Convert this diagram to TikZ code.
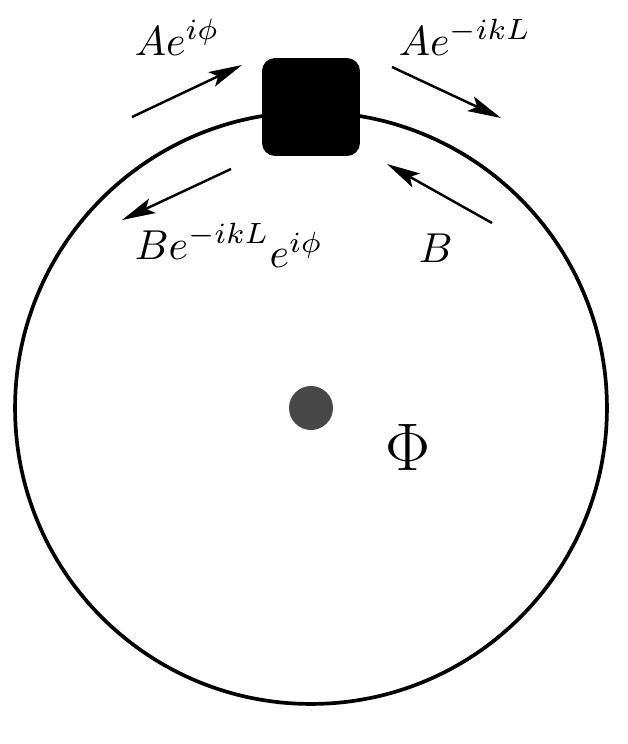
\documentclass[tikz,border=0pt]{standalone}
\usepackage{amsmath}
\usepackage{tikz}
\usetikzlibrary{arrows.meta}

\begin{document}
\begin{tikzpicture}[x=0.02cm,y=-0.02cm,
    wave/.style={line width=1.4pt,-{Stealth[length=19pt,width=9pt,inset=4pt]}},
    amp/.style={anchor=base west,inner sep=0pt,font=\normalsize,scale=2.38}]
\useasboundingbox (0,0) rectangle (627,744);
\coordinate (o) at (311,408);
% ring, flux and scatterer
\draw[line width=2.1pt] (o) circle[radius=5.92cm];
\node[circle, fill=black!72, minimum size=0.88cm, inner sep=0pt] (flux) at (o) {};
\node[fill=black, rounded corners=0.26cm, minimum size=1.96cm, inner sep=0pt] (box) at (311,107) {};
% end points of the waves
\coordinate (a1) at (132,117);
\coordinate (a2) at (242,65);
\coordinate (b1) at (231,169);
\coordinate (b2) at (122,220);
\coordinate (c1) at (392,67);
\coordinate (c2) at (501,118);
\coordinate (d1) at (492,223);
\coordinate (d2) at (387,164);
% draws waves
\draw[wave] (a1) -- (a2);
\draw[wave] (b1) -- (b2);
\draw[wave] (c1) -- (c2);
\draw[wave] (d1) -- (d2);
% labels waves
\node[amp] (ain) at (134,55) {$Ae^{i\phi}$};
\node[amp] (aout) at (398,55) {$Ae^{-ikL}$};
\node[amp] (bout) at (134,259) {$Be^{-ikL}\raisebox{-0.2em}{$e^{i\phi}$}$};
\node[amp] (bin) at (418,262) {$B$};
\node[anchor=base west, inner sep=0pt, font=\huge, scale=1.85] (phi) at (385,470) {$\Phi$};
\end{tikzpicture}
\end{document}
